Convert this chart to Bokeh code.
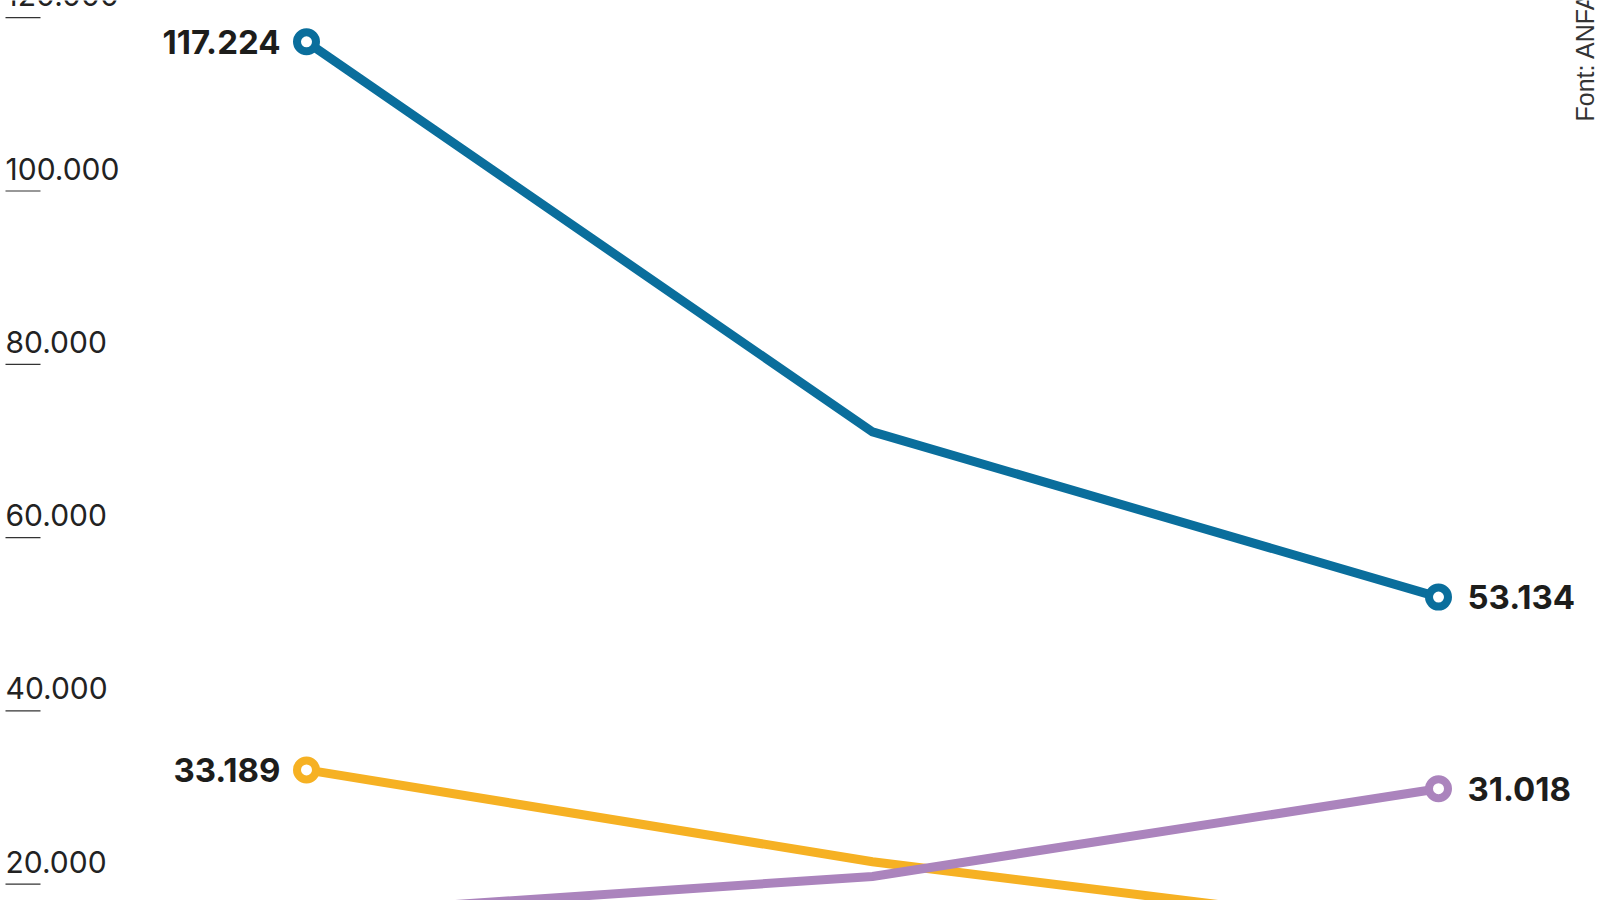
import math
from bokeh.plotting import figure
from bokeh.models import Range1d, Label
from bokeh.core.properties import value
from bokeh.embed import file_html
from bokeh.resources import INLINE

# ---- data ----
periods = [0, 1, 2]
series_blue = [117224, 72200, 53134]
series_yellow = [33189, 22600, 14500]
series_purple = [16500, 20900, 31018]
tick_values = [20000, 40000, 60000, 80000, 100000, 120000]
tick_labels = ["20.000", "40.000", "60.000", "80.000", "100.000", "120.000"]
source_note = "Font: ANFA"

colors = {"blue": "#0a6e9c", "yellow": "#f6b123", "purple": "#ab84bd"}
series = [("blue", series_blue), ("yellow", series_yellow), ("purple", series_purple)]


def fmt(v):
    return f"{v:,}".replace(",", ".")


# ---- layout ----
W, H = 1600, 900
px_per_period = 566.0
first_x_px = 306.0
x_start = -first_x_px / px_per_period
x_end = x_start + W / px_per_period
px_per_unit = 0.008665
zero_px = 1057.0
y_end = zero_px / px_per_unit
y_start = (zero_px - H) / px_per_unit

p = figure(width=W, height=H, output_backend="svg", toolbar_location=None,
           x_range=Range1d(x_start, x_end), y_range=Range1d(y_start, y_end),
           x_axis_location=None, y_axis_location=None, min_border=0)
p.grid.visible = False
p.outline_line_color = None
p.background_fill_color = "white"
p.border_fill_color = "white"

TICK_FONT = value("Inter")
VAL_FONT = value("Inter")

# y ticks drawn inside plot, label above a short rule
tick_x0 = x_start + 5.0 / px_per_period
tick_x1 = x_start + 40.0 / px_per_period
label_gap = 22.5 / px_per_unit
p.segment(x0=[tick_x0] * len(tick_values), y0=tick_values,
          x1=[tick_x1] * len(tick_values), y1=tick_values,
          line_color="#333333", line_width=1.2)
p.text(x=[tick_x0] * len(tick_values), y=[v + label_gap for v in tick_values],
       text=tick_labels, text_align="left", text_baseline="middle",
       text_font=TICK_FONT, text_font_size="30px", text_color="#222222")

# lines
for name, vals in series:
    p.line(periods, vals, line_color=colors[name], line_width=9, line_join="miter")

# endpoint markers + labels
for name, vals in series:
    ends_x = [periods[0], periods[-1]]
    ends_y = [vals[0], vals[-1]]
    p.scatter(ends_x, ends_y, marker="circle", size=19, fill_color="white",
              line_color=colors[name], line_width=8)
    if y_start < vals[0] < y_end:
        p.text(x=[periods[0]], y=[vals[0]], text=[fmt(vals[0])], x_offset=-26,
               text_align="right", text_baseline="middle", text_font=VAL_FONT,
               text_font_style="bold", text_font_size="33px", text_color="#1d1d1b")
    if y_start < vals[-1] < y_end:
        p.text(x=[periods[-1]], y=[vals[-1]], text=[fmt(vals[-1])], x_offset=29,
               text_align="left", text_baseline="middle", text_font=VAL_FONT,
               text_font_style="bold", text_font_size="33px", text_color="#1d1d1b")

# vertical source note at right edge
p.add_layout(Label(x=W - 16, y=H - 121, x_units="screen", y_units="screen",
                   text=source_note, angle=math.pi / 2, text_align="left",
                   text_baseline="alphabetic", text_font="Liberation Sans",
                   text_font_size="25px", text_color="#333333"))

open("out.html", "w").write(file_html(p, INLINE))
